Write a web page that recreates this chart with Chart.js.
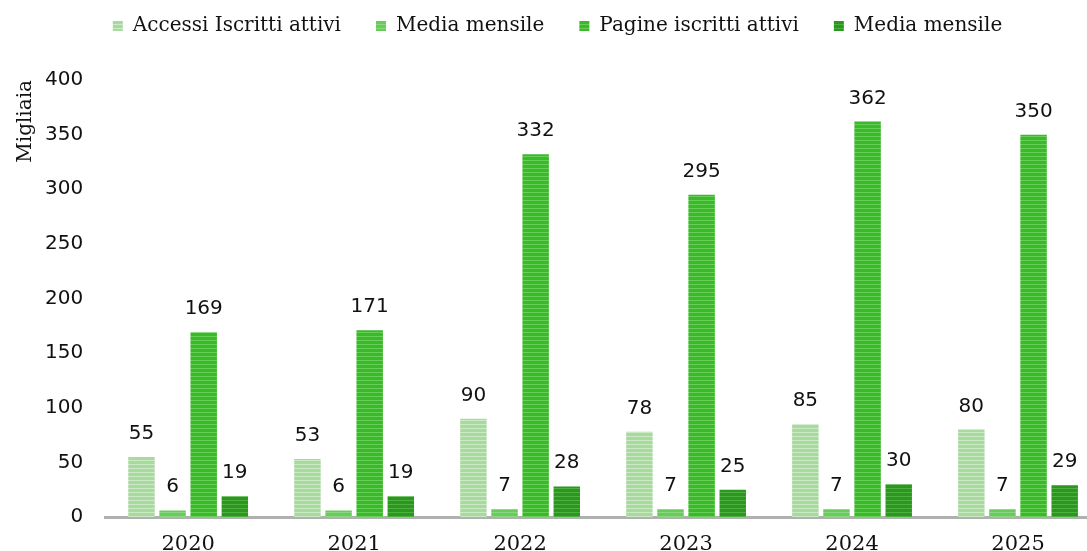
<!DOCTYPE html>
<html>
<head>
<meta charset="utf-8">
<script src="https://cdn.jsdelivr.net/npm/chart.js@4.4.1/dist/chart.umd.min.js"></script>
<style>
  html, body { margin: 0; padding: 0; background: #fff; overflow: hidden; }
  #wrap { width: 1087px; height: 551px; overflow: hidden; }
</style>
</head>
<body>
<div id="wrap"><canvas id="grafico" width="1101" height="551"></canvas></div>
<script>
// Dati del grafico (migliaia)
const anni = ["2020", "2021", "2022", "2023", "2024", "2025"];
const accessiIscritti = [55, 53, 90, 78, 85, 80];
const mediaAccessi = [6, 6, 7, 7, 7, 7];
const pagineIscritti = [169, 171, 332, 295, 362, 350];
const mediaPagine = [19, 19, 28, 25, 30, 29];
const tickY = [0, 50, 100, 150, 200, 250, 300, 350, 400];

const SERIF = "'DejaVu Serif', serif";
const SANS = "'DejaVu Sans', sans-serif";

// righe orizzontali come nel riferimento
function rigato(base, chiaro) {
  const c = document.createElement("canvas");
  c.width = 4;
  c.height = 4;
  const g = c.getContext("2d");
  g.fillStyle = base;
  g.fillRect(0, 0, 4, 4);
  g.fillStyle = chiaro;
  g.fillRect(0, 0, 4, 1);
  return g.createPattern(c, "repeat");
}

const etichetteValori = {
  id: "etichetteValori",
  afterDatasetsDraw(chart) {
    const ctx = chart.ctx;
    ctx.save();
    ctx.font = "20px " + SANS;
    ctx.fillStyle = "#111";
    ctx.textAlign = "center";
    ctx.textBaseline = "alphabetic";
    chart.data.datasets.forEach((ds, i) => {
      chart.getDatasetMeta(i).data.forEach((bar, j) => {
        ctx.fillText(String(ds.data[j]), bar.x, bar.y - 18);
      });
    });
    ctx.restore();
  },
};

// spazio in più sotto la legenda
const spazioLegenda = {
  id: "spazioLegenda",
  beforeInit(chart) {
    const fitOrig = chart.legend.fit;
    chart.legend.fit = function () {
      fitOrig.call(this);
      this.height += 34;
    };
  },
};

new Chart(document.getElementById("grafico"), {
  type: "bar",
  data: {
    labels: anni,
    datasets: [
      { label: "Accessi Iscritti attivi", data: accessiIscritti, backgroundColor: rigato("#a8daa0", "#c9eac3") },
      { label: "Media mensile", data: mediaAccessi, backgroundColor: rigato("#6acb5d", "#8ad87f") },
      { label: "Pagine iscritti attivi", data: pagineIscritti, backgroundColor: rigato("#3cb82c", "#66d056") },
      { label: "Media mensile", data: mediaPagine, backgroundColor: rigato("#2e9522", "#4cb23e") },
    ],
  },
  options: {
    responsive: false,
    animation: false,
    layout: { padding: { top: -19, left: 14, right: 0, bottom: -14 } },
    datasets: { bar: { categoryPercentage: 0.75, barPercentage: 0.85 } },
    plugins: {
      legend: {
        position: "top",
        labels: {
          boxWidth: 10,
          boxHeight: 10,
          padding: 35,
          color: "#111",
          font: { family: SERIF, size: 20 },
        },
      },
      tooltip: { enabled: false },
    },
    scales: {
      x: {
        grid: { display: false },
        border: { display: true, color: "#b0b0b0", width: 3 },
        ticks: { color: "#111", font: { family: SERIF, size: 21 }, padding: 7 },
      },
      y: {
        min: 0,
        max: 400,
        afterBuildTicks: (scala) => { scala.ticks = tickY.map((v) => ({ value: v })); },
        afterFit: (scala) => { scala.width -= 22; },
        grid: { display: false, drawTicks: false },
        border: { display: false },
        ticks: { color: "#111", font: { family: SANS, size: 20 }, padding: 22 },
        title: {
          display: true,
          text: "Migliaia",
          align: "end",
          color: "#111",
          font: { family: SERIF, size: 20 },
          padding: { top: 0, bottom: 7 },
        },
      },
    },
  },
  plugins: [etichetteValori, spazioLegenda],
});
</script>
</body>
</html>
